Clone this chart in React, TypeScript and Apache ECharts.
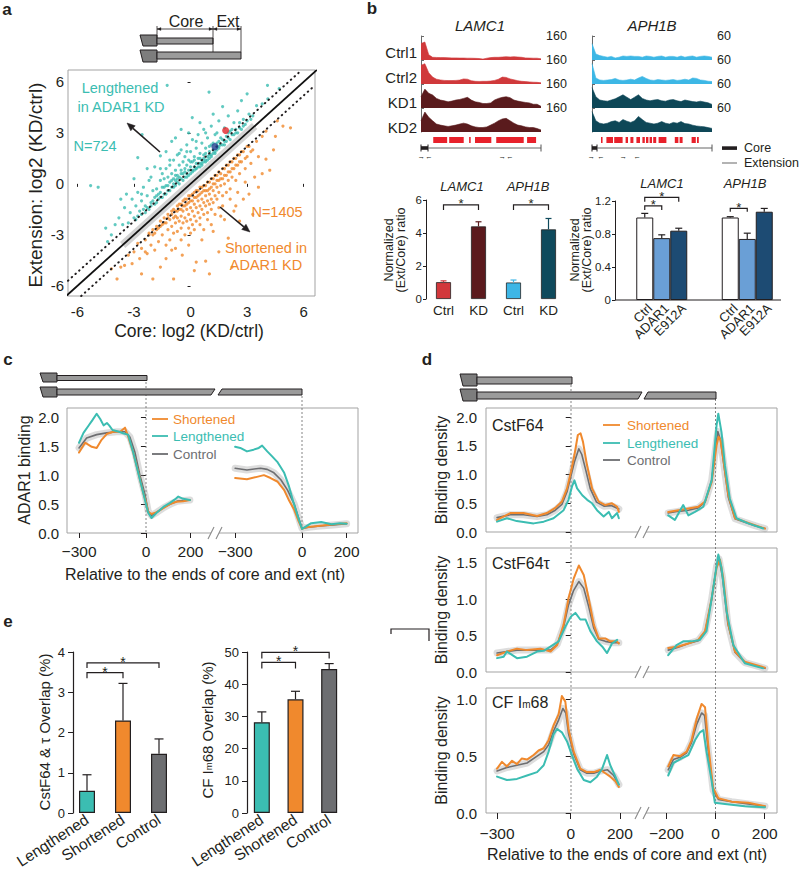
import React, { useEffect, useRef } from 'react';
import * as echarts from 'echarts';

const FONT = '"Liberation Sans", Arial, Helvetica, sans-serif';
const INK = '#231F20';
const TEAL = '#3BBDB2';
const ORANGE = '#F0892D';
const CTRL = '#6D6E71';
const FRAME = '#A3A3A3';

// ---------------- Panel a ----------------
const aTicks = [-6, -3, 0, 3, 6];
const lengthenedPts = [
  [-1.9,-0.8],[-1.8,-0.3],[-1.7,-0.9],[-1.6,0.2],[-1.6,-0.5],[-1.5,0.6],[-1.5,-0.2],[-1.4,-0.6],[-1.4,0.3],[-1.3,0.9],[-1.3,-0.1],[-1.2,0.4],[-1.2,-0.4],[-1.1,1.1],[-1.1,0.1],[-1.0,0.6],[-1.0,-0.2],[-0.9,1.4],[-0.9,0.3],[-0.9,0.0],[-0.8,0.8],[-0.8,0.2],[-0.7,1.7],[-0.7,0.5],[-0.7,0.1],[-0.6,1.1],[-0.6,0.4],[-0.5,2.0],[-0.5,0.8],[-0.5,0.3],[-0.4,1.3],[-0.4,0.6],[-0.3,1.6],[-0.3,0.9],[-0.3,0.4],[-0.2,2.3],[-0.2,1.1],[-0.2,0.6],[-0.1,1.4],[-0.1,0.8],[0.0,1.9],[0.0,1.0],[0.0,0.6],[0.1,2.6],[0.1,1.3],[0.1,0.8],[0.2,1.6],[0.2,1.0],[0.3,2.1],[0.3,1.2],[0.3,0.9],[0.4,2.9],[0.4,1.5],[0.4,1.0],[0.5,1.8],[0.5,1.2],[0.6,2.4],[0.6,1.4],[0.6,1.1],[0.7,3.2],[0.7,1.7],[0.7,1.3],[0.8,2.1],[0.8,1.4],[0.9,2.7],[0.9,1.6],[1.0,1.9],[1.0,1.5],[1.1,3.4],[1.1,2.3],[1.1,1.7],[1.2,2.0],[1.3,2.9],[1.3,1.9],[1.4,2.4],[1.4,2.0],[1.5,3.7],[1.5,2.2],[1.6,2.7],[1.7,2.3],[1.8,3.3],[1.8,2.5],[1.9,2.8],[2.0,4.0],[2.0,2.7],[2.1,3.1],[2.2,2.9],[2.3,3.6],[2.4,3.2],[2.5,4.3],[2.6,3.3],[2.8,3.8],[2.9,3.5],[3.1,4.1],[3.3,4.0],[3.5,4.6],[3.8,4.7],[4.1,5.0],
  [-2.0,-0.4],[-2.1,-1.1],[-2.2,0.2],[-2.3,-0.7],[-2.4,-1.3],[-2.5,-0.2],[-2.6,-1.0],[-2.7,-1.6],[-2.8,-0.5],[-2.9,-1.3],[-3.0,-2.0],[-3.1,-0.9],[-3.2,-1.7],[-3.3,-2.3],[-3.5,-1.4],[-3.6,-2.4],[-3.8,-2.0],[-4.0,-2.4],[-4.2,-3.0],[-4.5,-2.6],[-4.4,-3.4],[-3.4,-0.6],
  [-1.24,5.8],[0.98,5.4],[4.08,5.8],[4.7,5.6],[-5.3,-0.1],[-4.9,-0.2],[-2.8,1.55],[-2.57,2.9],[-1.6,1.65],[-0.5,3.2],[0.09,3.9],[1.7,4.55],[-1.9,1.0],[-2.3,0.9],[-3.0,0.3],[-1.0,2.5],[-0.1,3.0],[0.5,3.6],[1.2,4.1],[2.7,4.9],[3.0,5.3],[-3.7,-0.9],[-1.3,1.9],[-0.8,2.7],
  [-2.9,-2.1],[-2.8,-1.9],[-2.6,-1.8],[-2.5,-1.5],[-2.4,-1.7],[-2.3,-1.4],[-2.2,-1.5],[-2.1,-1.3],[-2.0,-1.0],[-1.9,-1.2],[-1.8,-0.7],[-1.8,-1.1],[-1.7,-0.6],[-1.6,-0.8],[-1.5,-0.8],[-1.4,-0.2],[-1.3,-0.6],[-1.2,-0.1],[-1.1,-0.4],[-1.0,0.2],[-0.9,-0.2],[-0.8,0.5],[-0.8,-0.1],[-0.7,0.3],[-0.6,0.0],[-0.5,0.6],[-0.4,0.2],[-0.3,0.7],[-0.2,0.4],[-0.1,0.5],[0.0,1.3],[0.1,0.7],[0.2,0.8],[0.2,1.4],[0.3,0.9],[0.4,1.2],[0.5,1.0],[0.5,1.5],[0.6,1.2],[0.7,1.5],[0.8,1.8],[0.8,1.3],[0.9,1.4],[1.0,1.7],[1.0,2.2],[1.1,1.6],[1.2,1.8],[1.2,2.4],[1.3,1.8],[1.4,2.2],[1.5,2.5],[1.5,2.1],[1.6,2.3],[1.7,2.6],[1.8,2.3],[1.9,2.5],[2.0,3.0],[2.1,2.6],[2.2,3.2],[2.3,2.9],[2.4,3.0],[2.5,3.0],[2.6,3.6],[2.7,3.2],[2.8,3.4],[3.0,3.7],[3.2,3.8],[-0.6,1.8],[-0.2,1.9],[0.3,2.5],[0.8,3.0],[1.4,3.0],[-1.1,1.4],[-1.6,0.9],[-2.1,0.4],[-2.6,-0.6]
];
const shortenedPts = [
  [-0.8,-1.6],[-0.8,-2.3],[-0.7,-1.3],[-0.7,-2.0],[-0.7,-2.8],[-0.6,-1.5],[-0.6,-2.2],[-0.5,-1.2],[-0.5,-1.9],[-0.5,-2.6],[-0.4,-1.0],[-0.4,-1.6],[-0.4,-2.3],[-0.3,-1.3],[-0.3,-2.0],[-0.3,-3.0],[-0.2,-0.9],[-0.2,-1.5],[-0.2,-2.2],[-0.1,-1.1],[-0.1,-1.8],[-0.1,-2.6],[0.0,-0.7],[0.0,-1.4],[0.0,-2.1],[0.1,-1.0],[0.1,-1.6],[0.1,-2.4],[0.2,-0.5],[0.2,-1.2],[0.2,-1.9],[0.3,-0.8],[0.3,-1.4],[0.3,-2.2],[0.4,-0.4],[0.4,-1.0],[0.4,-1.7],[0.5,-0.6],[0.5,-1.3],[0.5,-2.0],[0.6,-0.2],[0.6,-0.9],[0.6,-1.5],[0.7,-0.4],[0.7,-1.1],[0.7,-1.8],[0.8,-0.1],[0.8,-0.7],[0.8,-1.3],[0.9,-0.4],[0.9,-1.0],[0.9,-1.7],[1.0,0.1],[1.0,-0.6],[1.0,-1.2],[1.1,-0.2],[1.1,-0.9],[1.1,-1.5],[1.2,0.3],[1.2,-0.4],[1.2,-1.1],[1.3,0.0],[1.3,-0.7],[1.4,0.5],[1.4,-0.2],[1.4,-0.9],[1.5,0.2],[1.5,-0.5],[1.5,-1.4],[1.6,0.6],[1.6,-0.1],[1.7,0.3],[1.7,-0.7],[1.8,0.9],[1.8,0.0],[1.9,0.5],[1.9,-0.5],[2.0,1.1],[2.0,0.2],[2.1,0.7],[2.1,-0.3],[2.2,1.3],[2.2,0.4],[2.3,0.9],[2.4,1.5],[2.4,0.2],[2.5,1.1],[2.6,1.7],[2.6,0.6],[2.7,1.3],[2.8,1.9],[2.9,0.9],[3.0,1.6],[3.1,2.2],[3.2,1.2],[3.3,2.0],[3.5,2.5],[3.6,1.6],[3.8,2.8],
  [-0.9,-2.9],[-1.0,-1.8],[-1.0,-2.5],[-1.1,-3.3],[-1.2,-2.0],[-1.2,-2.7],[-1.3,-3.6],[-1.4,-2.3],[-1.5,-3.0],[-1.6,-2.5],[-1.7,-3.4],[-1.8,-2.7],[-1.9,-3.9],[-2.0,-3.0],[-2.1,-3.6],[-2.2,-2.9],[-2.3,-4.1],[-2.4,-3.3],[-2.6,-3.8],[-2.7,-4.4],[-2.8,-3.5],[-3.0,-4.0],[-3.1,-4.7],[-3.3,-4.2],[-3.5,-4.8],
  [4.0,3.1],[4.5,2.8],[4.4,2.0],[4.0,1.45],[3.8,0.6],[1.5,-4.0],[0.8,-4.55],[-0.44,-4.2],[-1.3,-4.4],[-2.6,-5.3],[-3.7,-4.9],[-2.4,-4.0],[0.2,-5.1],[2.2,-4.9],[3.3,-1.8],[2.6,-2.2],[4.9,3.4],[5.3,3.3],[4.6,3.7],[3.1,-0.6],[2.4,-1.3],[1.8,-2.1],[1.2,-2.8],[0.6,-3.3],[-0.1,-3.6],[-0.8,-3.8],[-1.6,-4.9],[-2.0,-5.6],[-0.9,-5.6],[1.0,-5.3],[3.6,-0.2],[4.2,0.8],[-3.9,-5.6],[-4.2,-5.0],[2.0,-3.2],[0.3,-4.6],
  [-2.2,-3.0],[-2.0,-2.7],[-1.9,-2.9],[-1.8,-2.5],[-1.7,-2.6],[-1.6,-2.2],[-1.5,-2.4],[-1.4,-2.0],[-1.3,-2.3],[-1.2,-1.8],[-1.1,-2.1],[-1.0,-1.6],[-0.9,-2.0],[-0.9,-1.5],[-0.8,-1.9],[-0.7,-1.6],[-0.6,-1.2],[-0.5,-1.5],[-0.4,-1.3],[-0.3,-0.9],[-0.2,-1.2],[-0.1,-0.7],[0.0,-1.0],[0.1,-0.6],[0.2,-0.8],[0.3,-0.4],[0.4,-0.7],[0.5,-0.2],[0.6,-0.5],[0.7,-0.1],[0.8,-0.4],[0.9,0.1],[1.0,-0.3],[1.1,0.3],[1.2,0.0],[1.3,0.5],[1.4,0.2],[1.5,0.7],[1.6,0.3],[1.7,0.9],[1.8,0.5],[1.9,1.1],[2.0,0.7],[2.1,1.3],[2.2,0.9],[2.3,1.5],[2.4,1.1],[2.5,1.7],[2.6,1.3],[2.7,1.9],[2.9,1.5],[3.0,2.2],[3.2,1.9],[0.2,-2.7],[0.5,-2.4],[0.9,-2.1],[1.3,-1.8],[1.7,-1.3],[2.1,-0.9],[2.5,-0.5],[2.9,0.1],[0.0,-2.9],[-0.5,-3.3],[-1.0,-3.9],[0.7,-2.7],[1.1,-2.4],[1.6,-1.9],[2.3,-1.6],[2.8,-0.9],[3.4,0.4]
];
const highlightLAMC1 = [1.86, 3.14];
const highlightAPH1B = [1.29, 2.19];
const nsBand = [[-3.6, -3.6], [3.4, 3.4]];
const diagonal = [[-6.6, -6.6], [6.7, 6.7]];
const diagUpper = [[-6.5, -5.7], [5.9, 6.7]];
const diagLower = [[-5.8, -6.6], [6.6, 5.8]];

// ---------------- Panel b: tracks ----------------
const trackNames = ['Ctrl1', 'Ctrl2', 'KD1', 'KD2'];
const lamc1Ctrl1 = [110,120,35,18,17,16,16,15,14,14,13,13,12,12,11,10,6,12,16,18,18,20,22,20,22,20,18,14,13,12,12,8];
const lamc1Ctrl2 = [125,135,75,46,32,27,24,23,23,24,26,34,32,22,18,17,18,18,20,24,32,46,44,34,28,22,18,16,14,12,11,8];
const lamc1KD1 = [75,126,98,87,64,53,48,41,46,53,57,64,71,53,41,37,30,30,34,53,64,71,75,69,53,46,41,37,34,25,25,11];
const lamc1KD2 = [75,133,98,75,53,46,41,37,41,46,53,59,53,41,34,30,30,34,46,59,75,87,91,75,59,46,41,34,30,30,23,14];
const aph1bCtrl1 = [41,15,11,9,7,9,5,7,10,9,10,9,9,7,10,9,7,9,10,7,9,9,7,10,7,9,10,7,9,10,9,7];
const aph1bCtrl2 = [51,15,10,9,10,11,14,10,9,10,12,10,15,19,14,10,9,11,10,9,10,11,9,10,12,10,15,14,10,9,7,6];
const aph1bKD1 = [51,28,20,18,17,20,23,28,33,27,21,27,33,24,20,18,20,21,18,17,20,21,18,16,20,18,16,15,17,15,13,9];
const aph1bKD2 = [51,28,22,20,22,26,28,24,31,27,24,28,39,31,24,22,20,22,26,22,20,24,22,26,21,20,17,15,14,13,11,9];
const lamc1Scale = 160;
const aph1bScale = 60;
const lamc1Exons = [[0.102,0.218],[0.235,0.356],[0.401,0.414],[0.450,0.586],[0.627,0.856],[0.884,0.959]];
const aph1bExons = [[0.075,0.088],[0.12,0.175],[0.185,0.255],[0.28,0.30],[0.32,0.345],[0.37,0.40],[0.42,0.44],[0.45,0.47],[0.48,0.50],[0.51,0.535],[0.555,0.62],[0.69,0.72],[0.73,0.755],[0.83,0.865],[0.875,0.89]];

// ---------------- Panel b: bars ----------------
const bLeftCats = ['Ctrl', 'KD', 'Ctrl', 'KD'];
const bLeftVals = [1.02, 4.4, 1.0, 4.22];
const bLeftErr = [1.1, 4.68, 1.15, 4.88];
const bLeftColors = ['#D2373B', '#5B1A1D', '#3DB6E6', '#0F4A5C'];
const bLeftTicks = [0, 2, 4, 6];
const bLeftBrackets = [[0, 1, 5.7, 5.4], [2, 3, 5.7, 5.4]];
const bRightGenes = ['LAMC1', 'APH1B'];
const bRightSeries = ['Ctrl', 'ADAR1', 'E912A'];
const bRightVals = [[1.0, 1.0], [0.75, 0.74], [0.84, 1.07]];
const bRightErr = [[1.05, 1.01], [0.79, 0.81], [0.87, 1.11]];
const bRightColors = ['#FFFFFF', '#6A9FD6', '#1D4B73'];
const bRightTicks = [0, 0.4, 0.8, 1.2];
const bRightBrackets = [[0, 0, 0, 1, 1.14, 1.09], [0, 0, 0, 2, 1.245, 1.19], [1, 0, 1, 1, 1.11, 1.07]];

// ---------------- Panel c ----------------
const C_OFF = 700;
const cXTicks = [-300, 0, 200, -300 + C_OFF, C_OFF, 200 + C_OFF];
const cYTicks = [0, 0.5, 1, 1.5, 2];
const cShortL = [[-300,1.39],[-273,1.56],[-243,1.49],[-221,1.47],[-199,1.61],[-176,1.71],[-146,1.75],[-116,1.75],[-94,1.82],[-79,1.66],[-57,1.39],[-34,1.04],[-12,0.69],[0,0.54],[10,0.36],[25,0.33],[48,0.36],[78,0.43],[107,0.5],[137,0.54],[167,0.55],[197,0.57]];
const cCtrlL = [[-300,1.47],[-266,1.64],[-221,1.7],[-176,1.73],[-131,1.75],[-94,1.75],[-72,1.66],[-49,1.39],[-27,1.0],[-4,0.66],[10,0.38],[25,0.3],[50,0.36],[80,0.44],[110,0.5],[140,0.55],[170,0.56],[197,0.57]];
const cLongL = [[-300,1.56],[-280,1.73],[-260,1.84],[-240,1.95],[-221,2.06],[-205,1.97],[-190,1.86],[-175,1.9],[-165,1.86],[-150,1.78],[-120,1.75],[-100,1.72],[-80,1.7],[-57,1.39],[-27,0.92],[-12,0.69],[0,0.5],[10,0.35],[25,0.26],[48,0.35],[78,0.45],[108,0.52],[130,0.58],[145,0.63],[167,0.59],[197,0.57]];
const cShortR = [[-300,0.95],[-247,0.93],[-202,0.97],[-171,1.0],[-141,0.95],[-111,0.89],[-80,0.74],[-58,0.56],[-35,0.4],[-15,0.2],[0,0.07],[18,0.1],[71,0.12],[147,0.15],[200,0.17]];
const cCtrlR = [[-300,1.12],[-247,1.09],[-186,1.12],[-156,1.1],[-126,1.04],[-95,0.92],[-65,0.74],[-35,0.5],[-12,0.22],[0,0.08],[30,0.1],[80,0.12],[140,0.14],[200,0.16]];
const cLongR = [[-300,1.49],[-277,1.47],[-247,1.41],[-217,1.44],[-194,1.47],[-179,1.51],[-156,1.41],[-133,1.32],[-111,1.23],[-80,1.04],[-58,0.8],[-40,0.55],[-20,0.3],[0,0.07],[20,0.12],[41,0.17],[86,0.19],[132,0.15],[170,0.17],[200,0.16]];

// ---------------- Panel d ----------------
const D_OFF = 590;
const dXTicks = [-300, 0, 200, -200 + D_OFF, D_OFF, 200 + D_OFF];
const dC64ShortL = [[-300,0.21],[-246,0.33],[-192,0.33],[-137,0.28],[-97,0.33],[-63,0.42],[-36,0.53],[-15,0.76],[1,1.05],[15,1.34],[29,1.69],[40,1.72],[50,1.57],[66,1.17],[87,0.76],[114,0.53],[141,0.47],[168,0.5],[189,0.44],[196,0.35]];
const dC64CtrlL = [[-300,0.25],[-246,0.3],[-192,0.3],[-137,0.27],[-97,0.3],[-63,0.38],[-36,0.48],[-15,0.7],[1,0.98],[15,1.22],[33,1.45],[45,1.35],[60,1.1],[80,0.75],[105,0.52],[135,0.45],[165,0.46],[196,0.4]];
const dC64LongL = [[-300,0.18],[-260,0.24],[-220,0.19],[-151,0.15],[-110,0.18],[-70,0.24],[-29,0.38],[-9,0.56],[5,0.79],[15,0.9],[26,0.76],[47,0.64],[67,0.56],[87,0.5],[107,0.38],[134,0.27],[155,0.35],[168,0.24],[189,0.33],[196,0.24]];
const dC64ShortR = [[-193,0.35],[-152,0.38],[-111,0.41],[-71,0.44],[-43,0.53],[-16,0.87],[4,1.51],[12,1.66],[20,1.6],[31,1.28],[52,0.64],[79,0.24],[119,0.18],[160,0.12],[201,0.06]];
const dC64CtrlR = [[-193,0.33],[-152,0.36],[-111,0.38],[-71,0.42],[-43,0.52],[-16,0.9],[4,1.6],[9,1.75],[20,1.6],[31,1.25],[52,0.6],[79,0.23],[119,0.17],[160,0.11],[201,0.06]];
const dC64LongR = [[-193,0.29],[-166,0.21],[-132,0.47],[-111,0.29],[-84,0.35],[-50,0.44],[-16,0.9],[4,1.86],[11,2.06],[24,1.74],[38,1.16],[58,0.58],[85,0.24],[133,0.15],[194,0.06]];
const dTauShortL = [[-300,0.23],[-260,0.28],[-219,0.32],[-178,0.3],[-123,0.32],[-82,0.28],[-55,0.37],[-29,0.65],[-9,1.01],[12,1.28],[33,1.46],[53,1.33],[73,1.01],[94,0.65],[114,0.46],[141,0.46],[161,0.42],[188,0.42],[196,0.39]];
const dTauCtrlL = [[-300,0.26],[-219,0.3],[-137,0.3],[-82,0.3],[-55,0.38],[-29,0.62],[-9,0.92],[12,1.12],[33,1.24],[53,1.15],[73,0.9],[94,0.6],[114,0.45],[141,0.42],[170,0.4],[196,0.4]];
const dTauLongL = [[-300,0.19],[-273,0.21],[-260,0.28],[-219,0.19],[-178,0.21],[-137,0.28],[-110,0.29],[-49,0.42],[-22,0.62],[1,0.76],[19,0.81],[39,0.72],[60,0.72],[80,0.56],[107,0.42],[128,0.35],[148,0.26],[168,0.39],[189,0.44]];
const dTauShortR = [[-193,0.33],[-152,0.35],[-111,0.39],[-71,0.44],[-43,0.56],[-16,1.01],[4,1.43],[18,1.54],[31,1.29],[52,0.65],[79,0.28],[119,0.14],[160,0.1],[201,0.06]];
const dTauCtrlR = [[-193,0.3],[-152,0.34],[-111,0.39],[-71,0.43],[-43,0.55],[-16,1.0],[4,1.45],[14,1.55],[28,1.3],[50,0.66],[79,0.27],[119,0.13],[160,0.09],[201,0.05]];
const dTauLongR = [[-193,0.23],[-159,0.37],[-132,0.42],[-98,0.42],[-64,0.44],[-37,0.56],[-16,1.01],[11,1.61],[24,1.43],[45,0.83],[72,0.37],[119,0.12],[194,0.05]];
const dImShortL = [[-300,0.39],[-280,0.45],[-260,0.41],[-239,0.46],[-219,0.43],[-199,0.48],[-178,0.47],[-151,0.51],[-131,0.55],[-110,0.57],[-90,0.64],[-70,0.77],[-49,0.87],[-36,1.03],[-22,0.98],[-9,0.74],[12,0.54],[39,0.39],[66,0.36],[94,0.36],[121,0.38],[141,0.35],[161,0.32],[182,0.28],[196,0.23]];
const dImCtrlL = [[-300,0.37],[-260,0.4],[-219,0.42],[-178,0.44],[-137,0.5],[-110,0.54],[-90,0.6],[-70,0.72],[-49,0.82],[-32,0.92],[-20,0.88],[-9,0.7],[12,0.52],[39,0.38],[66,0.35],[94,0.35],[121,0.37],[150,0.38],[175,0.33],[196,0.25]];
const dImLongL = [[-300,0.32],[-260,0.29],[-219,0.3],[-178,0.33],[-137,0.36],[-110,0.42],[-90,0.54],[-70,0.69],[-56,0.74],[-36,0.71],[-15,0.63],[5,0.51],[26,0.39],[53,0.29],[80,0.27],[107,0.32],[128,0.39],[148,0.51],[161,0.42],[182,0.32],[196,0.25]];
const dImShortR = [[-193,0.41],[-172,0.51],[-145,0.5],[-118,0.54],[-98,0.64],[-77,0.83],[-57,0.96],[-43,0.93],[-30,0.6],[-10,0.22],[11,0.13],[65,0.1],[133,0.09],[201,0.06]];
const dImCtrlR = [[-193,0.38],[-172,0.47],[-145,0.49],[-118,0.53],[-98,0.62],[-77,0.78],[-57,0.88],[-45,0.86],[-30,0.55],[-10,0.2],[11,0.12],[65,0.1],[133,0.08],[201,0.06]];
const dImLongR = [[-193,0.33],[-172,0.44],[-138,0.48],[-111,0.51],[-84,0.64],[-64,0.71],[-50,0.73],[-37,0.54],[-16,0.28],[-3,0.09],[38,0.08],[119,0.06],[201,0.05]];

// ---------------- Panel e ----------------
const eCats = ['Lengthened', 'Shortened', 'Control'];
const eColors = [TEAL, ORANGE, CTRL];
const eLeftVals = [0.55, 2.3, 1.47];
const eLeftErr = [0.95, 3.22, 1.84];
const eLeftTicks = [0, 1, 2, 3, 4];
const eLeftBrackets = [[0, 1, 3.49, 3.35], [0, 2, 3.73, 3.6]];
const eRightVals = [28.2, 35.3, 44.7];
const eRightErr = [31.4, 37.8, 46.4];
const eRightTicks = [0, 10, 20, 30, 40, 50];
const eRightBrackets = [[0, 1, 46.8, 44.9], [0, 2, 49.9, 48]];

function buildOption(): any {
  const grid: any[] = [];
  const xAxis: any[] = [];
  const yAxis: any[] = [];
  const series: any[] = [];
  const g: any[] = [];

  const add = (gr: any, x: any, y: any) => {
    const i = grid.length;
    grid.push({ outerBoundsMode: 'none', containLabel: false, ...gr });
    xAxis.push({ gridIndex: i, splitLine: { show: false }, ...x });
    yAxis.push({ gridIndex: i, splitLine: { show: false }, ...y });
    return i;
  };
  const on = (i: number) => ({ xAxisIndex: i, yAxisIndex: i });
  const lbl = (size: number) => ({ color: INK, fontSize: size, fontFamily: FONT });
  const tick = (vals: number[], len: number) => ({ show: true, length: len, customValues: vals, lineStyle: { color: INK, width: 1 } });
  const minus = (v: number) => String(v).replace('-', '\u2212');

  const text = (x: number, y: number, t: string, o: any = {}) => {
    const style: any = {
      text: t, fontSize: o.size || 13, fontFamily: FONT, fontWeight: o.bold ? 'bold' : 'normal',
      fontStyle: o.italic ? 'italic' : 'normal', fill: o.color || INK,
      align: o.align || 'center', verticalAlign: o.va || 'middle'
    };
    if (o.lh) style.lineHeight = o.lh;
    if (o.rich) style.rich = o.rich;
    return { type: 'text', x, y, rotation: o.rot || 0, z: 100, silent: true, style };
  };
  const seg = (x1: number, y1: number, x2: number, y2: number, o: any = {}) => {
    const style: any = { stroke: o.color || INK, lineWidth: o.w || 1 };
    if (o.dash) style.lineDash = o.dash;
    return { type: 'line', z: o.z ?? 60, silent: true, shape: { x1, y1, x2, y2 }, style };
  };
  const poly = (pts: number[][], fill: string, o: any = {}) => ({
    type: 'polygon', z: o.z ?? 60, silent: true, shape: { points: pts },
    style: { fill, stroke: o.stroke || INK, lineWidth: o.w ?? 1 }
  });
  const rect = (x: number, y: number, w: number, h: number, fill: string, o: any = {}) => ({
    type: 'rect', z: o.z ?? 60, silent: true, shape: { x, y, width: w, height: h },
    style: { fill, stroke: o.stroke || null, lineWidth: o.w ?? 0 }
  });
  const arrow = (x1: number, y1: number, x2: number, y2: number, size = 8) => {
    const a = Math.atan2(y2 - y1, x2 - x1);
    const hx = x2 - size * Math.cos(a), hy = y2 - size * Math.sin(a);
    const w = size * 0.42, px = -Math.sin(a) * w, py = Math.cos(a) * w;
    return [seg(x1, y1, hx, hy, { w: 1.6 }), poly([[x2, y2], [hx + px, hy + py], [hx - px, hy - py]], INK, { w: 0.5 })];
  };
  const capShape = (x: number, top: number, bot: number) => poly([[x, top], [x + 17, top], [x + 17, bot], [x + 3, bot]], '#7D7D7D');
  const barShape = (x1: number, x2: number, top: number, bot: number) => poly([[x1, top], [x2, top], [x2, bot], [x1, bot]], '#9B9B9B');
  const brk = (x: number, y: number) => [
    rect(x - 5, y - 2, 8, 4, '#fff', { z: 70 }),
    seg(x - 8, y + 6, x - 2, y - 6, { color: '#8A8A8A', w: 1.1, z: 71 }),
    seg(x + 0, y + 6, x + 6, y - 6, { color: '#8A8A8A', w: 1.1, z: 71 })
  ];

  const errSeries = (i: number, data: number[][], colorOf: (k: number, s: number) => string, cap: number, shift: (s: number) => number) => ({
    type: 'custom', ...on(i), clip: false, silent: true, z: 5, encode: { x: 0, y: 2 }, data,
    renderItem: (p: any, api: any) => {
      const cat = api.value(0), s = api.value(1), v = api.value(2), e = api.value(3);
      const b = api.coord([cat, v]);
      const t = api.coord([cat, e]);
      const x = b[0] + shift(s);
      const c = colorOf(p.dataIndex, s);
      return {
        type: 'group', children: [
          { type: 'line', shape: { x1: x, y1: b[1], x2: x, y2: t[1] }, style: { stroke: c, lineWidth: 1.2 } },
          { type: 'line', shape: { x1: x - cap / 2, y1: t[1], x2: x + cap / 2, y2: t[1] }, style: { stroke: c, lineWidth: 1.2 } }
        ]
      };
    }
  });
  const bracketSeries = (i: number, data: number[][], shift: (s: number) => number, starSize = 14) => ({
    type: 'custom', ...on(i), clip: false, silent: true, z: 5, encode: { x: 0, y: 4 }, data,
    renderItem: (p: any, api: any) => {
      const ca = api.value(0), sa = api.value(1), cb = api.value(2), sb = api.value(3), top = api.value(4), leg = api.value(5);
      const pa = api.coord([ca, top]);
      const pb = api.coord([cb, top]);
      const pl = api.coord([ca, leg]);
      const xa = pa[0] + shift(sa), xb = pb[0] + shift(sb), yt = pa[1], yl = pl[1];
      return {
        type: 'group', children: [
          { type: 'polyline', shape: { points: [[xa, yl], [xa, yt], [xb, yt], [xb, yl]] }, style: { stroke: INK, lineWidth: 1.2, fill: 'none' } },
          { type: 'text', x: (xa + xb) / 2, y: yt - 1, style: { text: '*', fontSize: starSize, lineHeight: 8, fontFamily: FONT, fill: INK, align: 'center', verticalAlign: 'middle' } }
        ]
      };
    }
  });
  const noShift = () => 0;

  // ================= Panel a =================
  const ia = add(
    { left: 68, top: 70, width: 247, height: 226, show: true, borderColor: FRAME, borderWidth: 1 },
    { type: 'value', min: -6.5, max: 6.6, axisLine: { show: false }, axisTick: tick(aTicks, 3), axisLabel: { customValues: aTicks, ...lbl(15), margin: 8 } },
    { type: 'value', min: -6.6, max: 6.7, axisLine: { show: false }, axisTick: tick(aTicks, 3), axisLabel: { customValues: aTicks, ...lbl(15), margin: 4 } }
  );
  series.push({ type: 'line', ...on(ia), data: nsBand, symbol: 'none', silent: true, z: 1, lineStyle: { color: '#D3D3D3', width: 8, cap: 'butt' } });
  series.push({ type: 'scatter', ...on(ia), data: lengthenedPts, symbolSize: 3.2, silent: true, itemStyle: { color: TEAL }, z: 2 });
  series.push({ type: 'scatter', ...on(ia), data: shortenedPts, symbolSize: 3.2, silent: true, itemStyle: { color: ORANGE }, z: 2 });
  series.push({ type: 'line', ...on(ia), data: diagUpper, symbol: 'none', silent: true, z: 3, lineStyle: { color: INK, width: 2, type: [0.5, 4.5], cap: 'round' } });
  series.push({ type: 'line', ...on(ia), data: diagLower, symbol: 'none', silent: true, z: 3, lineStyle: { color: INK, width: 2, type: [0.5, 4.5], cap: 'round' } });
  series.push({ type: 'line', ...on(ia), data: diagonal, symbol: 'none', silent: true, z: 3, lineStyle: { color: '#111', width: 1.8 } });
  series.push({ type: 'scatter', ...on(ia), data: [highlightLAMC1], symbolSize: 7, silent: true, itemStyle: { color: '#E3262B' }, z: 4 });
  series.push({ type: 'scatter', ...on(ia), data: [highlightAPH1B], symbolSize: 7, silent: true, itemStyle: { color: '#1F3C8C' }, z: 4 });

  g.push(text(7, 9, 'a', { bold: true, size: 17 }));
  g.push(capShape(140, 35, 46), barShape(157, 213, 38, 44));
  g.push(capShape(140, 50, 62), barShape(157, 241, 52, 59));
  g.push(seg(157, 26, 157, 38, { w: 0.8 }), seg(213, 26, 213, 52, { w: 0.8 }), seg(241, 26, 241, 52, { w: 0.8 }));
  g.push(seg(157, 29, 213, 29, { w: 0.8 }), seg(213, 29, 241, 29, { w: 0.8 }));
  g.push(poly([[157, 29], [161, 27.5], [161, 30.5]], INK, { w: 0.3 }), poly([[213, 29], [209, 27.5], [209, 30.5]], INK, { w: 0.3 }));
  g.push(poly([[213, 29], [217, 27.5], [217, 30.5]], INK, { w: 0.3 }), poly([[241, 29], [237, 27.5], [237, 30.5]], INK, { w: 0.3 }));
  g.push(text(186, 21, 'Core', { size: 16 }), text(228, 21, 'Ext', { size: 16 }));
  g.push(text(35, 185, 'Extension: log2 (KD/ctrl)', { size: 19, rot: Math.PI / 2 }));
  g.push(text(189, 331, 'Core: log2 (KD/ctrl)', { size: 17.5 }));
  g.push(text(120, 88, 'Lengthened', { size: 14.5, color: TEAL }), text(121, 107, 'in ADAR1 KD', { size: 14.5, color: TEAL }));
  g.push(text(95, 146, 'N=724', { size: 14.5, color: TEAL }));
  g.push(text(277, 212, 'N=1405', { size: 14.5, color: ORANGE }));
  g.push(text(266, 248, 'Shortened in', { size: 14.5, color: ORANGE }), text(266, 265, 'ADAR1 KD', { size: 14.5, color: ORANGE }));
  g.push(...arrow(160, 152, 127, 123), ...arrow(220, 207, 250, 232));

  // ================= Panel b: coverage tracks =================
  g.push(text(372, 8, 'b', { bold: true, size: 17 }));
  const trackTops = [36, 60, 84, 108];
  const genes = [
    { name: 'LAMC1', left: 421, max: lamc1Scale, tracks: [lamc1Ctrl1, lamc1Ctrl2, lamc1KD1, lamc1KD2], colors: ['#D0393B', '#D0393B', '#5A1B1D', '#5A1B1D'], exons: lamc1Exons },
    { name: 'APH1B', left: 592, max: aph1bScale, tracks: [aph1bCtrl1, aph1bCtrl2, aph1bKD1, aph1bKD2], colors: ['#3DB7E5', '#3DB7E5', '#0E4757', '#0E4757'], exons: aph1bExons }
  ];
  genes.forEach((gn) => {
    let lastIdx = 0;
    gn.tracks.forEach((tr, t) => {
      const i = add(
        { left: gn.left, top: trackTops[t], width: 120, height: 24 },
        { type: 'value', min: 0, max: 1, show: false },
        { type: 'value', min: 0, max: gn.max, position: 'right', offset: 2, axisLine: { show: true, lineStyle: { color: '#6A6A6A', width: 1 } }, axisTick: { show: true, length: 3, customValues: [gn.max], lineStyle: { color: '#6A6A6A' } }, axisLabel: { customValues: [gn.max], ...lbl(12.5), margin: 3 } }
      );
      series.push({
        type: 'line', ...on(i), data: tr.map((v, k) => [k / (tr.length - 1), v]), symbol: 'none', silent: true,
        lineStyle: { color: gn.colors[t], width: 0.6 }, areaStyle: { color: gn.colors[t], opacity: 1 }
      });
      lastIdx = i;
    });
    series.push({
      type: 'custom', ...on(lastIdx), clip: false, silent: true, data: gn.exons, encode: { x: [0, 1] },
      renderItem: (p: any, api: any) => {
        const a = api.coord([api.value(0), 0]);
        const b = api.coord([api.value(1), 0]);
        return { type: 'rect', shape: { x: a[0], y: a[1] + 5, width: Math.max(1.2, b[0] - a[0]), height: 6 }, style: { fill: '#E8212B' } };
      }
    });
  });
  g.push(text(480, 25, 'LAMC1', { size: 15, italic: true }), text(652, 25, 'APH1B', { size: 15, italic: true }));
  trackNames.forEach((n, t) => g.push(text(417, trackTops[t] + 16 + t, n, { size: 15, align: 'right' })));
  g.push(rect(421, 146.2, 7, 3.6, INK), seg(421, 144.5, 421, 151.5), seg(428, 144.5, 428, 151.5), seg(428, 148, 541, 148, { color: '#555', w: 0.9 }), seg(541, 144.5, 541, 151.5, { color: '#555' }));
  g.push(text(425, 156, '\u2192\u2190', { size: 7.5 }), text(506, 156, '\u2192\u2190', { size: 7.5 }));
  g.push(rect(592, 146.2, 5, 3.6, INK), seg(592, 144.5, 592, 151.5), seg(597, 144.5, 597, 151.5), seg(597, 148, 712, 148, { color: '#555', w: 0.9 }), seg(712, 144.5, 712, 151.5, { color: '#555' }));
  g.push(text(596, 156, '\u2192 \u2190', { size: 7.5 }), text(630, 156, '\u2192   \u2190', { size: 7.5 }));
  g.push(rect(722, 146.3, 15, 3.6, INK), text(744, 148, 'Core', { size: 12.5, align: 'left' }));
  g.push(seg(722, 163, 737, 163, { color: '#9A9A9A', w: 1.5 }), text(744, 163, 'Extension', { size: 12.5, align: 'left' }));

  // ================= Panel b: bar charts =================
  const ib1 = add(
    { left: 426, top: 200, width: 140, height: 99 },
    { type: 'category', data: bLeftCats, axisLine: { show: false }, axisTick: { show: false }, axisLabel: { ...lbl(13.5), margin: 4, interval: 0 } },
    { type: 'value', min: 0, max: 6, axisLine: { show: true, lineStyle: { color: INK, width: 1 } }, axisTick: tick(bLeftTicks, 3), axisLabel: { customValues: bLeftTicks, ...lbl(11.5), margin: 4 } }
  );
  series.push({ type: 'bar', ...on(ib1), barWidth: 15, silent: true, data: bLeftVals.map((v, k) => ({ value: v, itemStyle: { color: bLeftColors[k], borderColor: '#222', borderWidth: 0.8 } })) });
  series.push(errSeries(ib1, bLeftVals.map((v, k) => [k, 1, v, bLeftErr[k]]), (k) => bLeftColors[k], 6, noShift));
  series.push(bracketSeries(ib1, bLeftBrackets.map((b) => [b[0], 1, b[1], 1, b[2], b[3]]), noShift, 13));
  g.push(text(462, 186, 'LAMC1', { size: 13, italic: true }), text(528, 186, 'APH1B', { size: 13, italic: true }));
  g.push(text(395, 250, 'Normalized\n(Ext/Core) ratio', { size: 12.5, rot: Math.PI / 2, lh: 12 }));

  const BW = 17;
  const ib2 = add(
    { left: 619, top: 201, width: 171, height: 99 },
    { type: 'category', data: bRightGenes, axisLine: { show: false }, axisTick: { show: false }, axisLabel: { show: false } },
    { type: 'value', min: 0, max: 1.2, offset: 4, axisLine: { show: true, lineStyle: { color: INK, width: 1 } }, axisTick: tick(bRightTicks, 3), axisLabel: { customValues: bRightTicks, formatter: (v: number) => (v === 0 ? '0' : v.toFixed(1)), ...lbl(11.5), margin: 4 } }
  );
  bRightSeries.forEach((nm, s) => {
    series.push({ type: 'bar', ...on(ib2), name: nm, data: bRightVals[s], barWidth: BW, barGap: '0%', silent: true, itemStyle: { color: bRightColors[s], borderColor: INK, borderWidth: 1 } });
  });
  const shiftR = (s: number) => (s - 1) * BW;
  const errR: number[][] = [];
  bRightGenes.forEach((_, c) => bRightSeries.forEach((__, s) => errR.push([c, s, bRightVals[s][c], bRightErr[s][c]])));
  series.push(errSeries(ib2, errR, () => INK, 7, shiftR));
  series.push(bracketSeries(ib2, bRightBrackets, shiftR, 13));
  series.push({
    type: 'custom', ...on(ib2), clip: false, silent: true, encode: { x: 0, y: 1 },
    data: errR.map((r) => [r[0], r[1]]),
    renderItem: (p: any, api: any) => {
      const c = api.value(0), s = api.value(1);
      const pt = api.coord([c, 0]);
      return { type: 'text', x: pt[0] + shiftR(s) + 5, y: pt[1] + 6, rotation: Math.PI / 4, style: { text: bRightSeries[s], fontSize: 13, fontFamily: FONT, fill: INK, align: 'right', verticalAlign: 'middle' } };
    }
  });
  g.push(seg(615, 300, 781, 300, { w: 1.2 }));
  g.push(text(662, 183, 'LAMC1', { size: 13, italic: true }), text(745, 183, 'APH1B', { size: 13, italic: true }));
  g.push(text(581, 250, 'Normalized\n(Ext/Core) ratio', { size: 12.5, rot: Math.PI / 2, lh: 12 }));

  // ================= Panel c =================
  const trio = (i: number, off: number, sh: number[][], ct: number[][], lg: number[][]) => {
    const prof = (d: number[][], color: string, width: number) =>
      series.push({ type: 'line', ...on(i), data: d.map((p) => [p[0] + off, p[1]]), symbol: 'none', silent: true, lineStyle: { color, width, join: 'round', cap: 'round' } });
    prof(ct, 'rgba(150,150,150,0.32)', 7);
    prof(ct, CTRL, 1.6);
    prof(sh, ORANGE, 2);
    prof(lg, TEAL, 2);
  };
  g.push(text(8, 359, 'c', { bold: true, size: 17 }));
  const ic = add(
    { left: 67, top: 408, width: 291, height: 125, show: true, borderColor: FRAME, borderWidth: 1 },
    { type: 'value', min: -354, max: 951, axisLine: { show: false }, axisTick: tick(cXTicks, 5), axisLabel: { customValues: cXTicks, formatter: (v: number) => minus(v > 300 ? v - C_OFF : v), ...lbl(15.5), margin: 10 } },
    { type: 'value', min: 0, max: 2.16, axisLine: { show: false }, axisTick: tick(cYTicks, 5), axisLabel: { customValues: cYTicks, formatter: (v: number) => v.toFixed(1), ...lbl(15), margin: 8 } }
  );
  trio(ic, 0, cShortL, cCtrlL, cLongL);
  trio(ic, C_OFF, cShortR, cCtrlR, cLongR);
  g.push(capShape(40, 373, 382), barShape(57, 147, 375.5, 380.5));
  g.push(capShape(40, 387, 397), poly([[57, 389], [215, 389], [211, 395], [57, 395]], '#9B9B9B'), poly([[222, 389], [302, 389], [302, 395], [218, 395]], '#9B9B9B'));
  g.push(seg(146, 382, 146, 533, { dash: [2, 2], color: '#666', w: 0.8, z: 1 }), seg(302, 396, 302, 533, { dash: [2, 2], color: '#666', w: 0.8, z: 1 }));
  g.push(...brk(216, 533));
  g.push(seg(152, 419, 168, 419, { color: ORANGE, w: 1.8 }), text(173, 419, 'Shortened', { size: 13.5, align: 'left', color: ORANGE }));
  g.push(seg(152, 436, 168, 436, { color: TEAL, w: 1.8 }), text(173, 436, 'Lengthened', { size: 13.5, align: 'left', color: TEAL }));
  g.push(seg(152, 454, 168, 454, { color: CTRL, w: 1.8 }), text(173, 454, 'Control', { size: 13.5, align: 'left', color: CTRL }));
  g.push(text(24, 470, 'ADAR1 binding', { size: 16, rot: Math.PI / 2 }));
  g.push(text(205, 574, 'Relative to the ends of core and ext (nt)', { size: 16 }));

  // ================= Panel d =================
  g.push(text(427, 359, 'd', { bold: true, size: 17 }));
  const dBoxes = [
    { top: 408, h: 124, max: 2.16, ticks: [0, 0.5, 1, 1.5, 2], L: [dC64ShortL, dC64CtrlL, dC64LongL], R: [dC64ShortR, dC64CtrlR, dC64LongR] },
    { top: 548, h: 124, max: 1.7, ticks: [0, 0.5, 1, 1.5], L: [dTauShortL, dTauCtrlL, dTauLongL], R: [dTauShortR, dTauCtrlR, dTauLongR] },
    { top: 688, h: 125, max: 1.1, ticks: [0, 0.5, 1], L: [dImShortL, dImCtrlL, dImLongL], R: [dImShortR, dImCtrlR, dImLongR] }
  ];
  dBoxes.forEach((b, k) => {
    const last = k === dBoxes.length - 1;
    const i = add(
      { left: 486, top: b.top, width: 291, height: b.h, show: true, borderColor: FRAME, borderWidth: 1 },
      { type: 'value', min: -345, max: 840, axisLine: { show: false }, axisTick: last ? tick(dXTicks, 6) : { show: false }, axisLabel: last ? { customValues: dXTicks, formatter: (v: number) => minus(v > 300 ? v - D_OFF : v), ...lbl(15.5), margin: 12 } : { show: false } },
      { type: 'value', min: 0, max: b.max, axisLine: { show: false }, axisTick: tick(b.ticks, 5), axisLabel: { customValues: b.ticks, formatter: (v: number) => v.toFixed(1), ...lbl(15), margin: 9 } }
    );
    trio(i, 0, b.L[0], b.L[1], b.L[2]);
    trio(i, D_OFF, b.R[0], b.R[1], b.R[2]);
    g.push(...brk(643, b.top + b.h));
    g.push(text(441, b.top + b.h / 2, 'Binding density', { size: 16, rot: Math.PI / 2 }));
  });
  g.push(capShape(460, 374, 386), barShape(477, 572, 377, 384));
  g.push(capShape(460, 389, 401), poly([[477, 392], [642, 392], [638, 399], [477, 399]], '#9B9B9B'), poly([[648, 392], [716, 392], [716, 399], [644, 399]], '#9B9B9B'));
  g.push(seg(571, 385, 571, 813, { dash: [2, 2], color: '#666', w: 0.8, z: 1 }), seg(715.5, 399, 715.5, 813, { dash: [2, 2], color: '#666', w: 0.8, z: 1 }));
  g.push(text(492, 425, 'CstF64', { size: 16, align: 'left' }));
  g.push(text(492, 563, 'CstF64\u03C4', { size: 16, align: 'left' }));
  g.push(text(492, 702, 'CF I{s|m}68', { size: 16, align: 'left', rich: { s: { fontSize: 10, fontFamily: FONT, fill: INK, verticalAlign: 'bottom', padding: [0, 0, 1, 0] } } }));
  g.push(seg(603, 425, 620, 425, { color: ORANGE, w: 1.8 }), text(627, 425, 'Shortened', { size: 13.5, align: 'left', color: ORANGE }));
  g.push(seg(603, 443, 620, 443, { color: TEAL, w: 1.8 }), text(627, 443, 'Lengthened', { size: 13.5, align: 'left', color: TEAL }));
  g.push(seg(603, 460, 620, 460, { color: CTRL, w: 1.8 }), text(627, 460, 'Control', { size: 13.5, align: 'left', color: CTRL }));
  g.push(text(627, 854, 'Relative to the ends of core and ext (nt)', { size: 16 }));
  g.push({ type: 'polyline', z: 60, silent: true, shape: { points: [[391, 634], [391, 629], [429, 629], [429, 641]] }, style: { stroke: INK, lineWidth: 1.2, fill: 'none' } });

  // ================= Panel e =================
  g.push(text(8, 621, 'e', { bold: true, size: 17 }));
  const ie1 = add(
    { left: 69, top: 652, width: 108, height: 161 },
    { type: 'category', data: eCats, axisLine: { show: false }, axisTick: { show: false }, axisLabel: { ...lbl(15.5), rotate: 33, margin: 5, interval: 0 } },
    { type: 'value', min: 0, max: 4, offset: -4, axisLine: { show: true, lineStyle: { color: INK, width: 1.2 } }, axisTick: tick(eLeftTicks, 5), axisLabel: { customValues: eLeftTicks, ...lbl(13), margin: 8 } }
  );
  series.push({ type: 'bar', ...on(ie1), barWidth: 16, silent: true, data: eLeftVals.map((v, k) => ({ value: v, itemStyle: { color: eColors[k], borderColor: INK, borderWidth: 1.2 } })) });
  series.push(errSeries(ie1, eLeftVals.map((v, k) => [k, 1, v, eLeftErr[k]]), () => INK, 9, noShift));
  series.push(bracketSeries(ie1, eLeftBrackets.map((b) => [b[0], 1, b[1], 1, b[2], b[3]]), noShift, 14));
  g.push(text(44, 732, 'CstF64 & \u03C4 Overlap (%)', { size: 15, rot: Math.PI / 2 }));

  const ie2 = add(
    { left: 245, top: 652, width: 101, height: 161 },
    { type: 'category', data: eCats, axisLine: { show: false }, axisTick: { show: false }, axisLabel: { ...lbl(15.5), rotate: 33, margin: 5, interval: 0 } },
    { type: 'value', min: 0, max: 50, offset: -2, axisLine: { show: true, lineStyle: { color: INK, width: 1.2 } }, axisTick: tick(eRightTicks, 5), axisLabel: { customValues: eRightTicks, ...lbl(13), margin: 8 } }
  );
  series.push({ type: 'bar', ...on(ie2), barWidth: 16, silent: true, data: eRightVals.map((v, k) => ({ value: v, itemStyle: { color: eColors[k], borderColor: INK, borderWidth: 1.2 } })) });
  series.push(errSeries(ie2, eRightVals.map((v, k) => [k, 1, v, eRightErr[k]]), () => INK, 9, noShift));
  series.push(bracketSeries(ie2, eRightBrackets.map((b) => [b[0], 1, b[1], 1, b[2], b[3]]), noShift, 14));
  g.push(text(207, 730, 'CF I{s|m}68 Overlap (%)', { size: 15, rot: Math.PI / 2, rich: { s: { fontSize: 9.5, fontFamily: FONT, fill: INK, verticalAlign: 'bottom', padding: [0, 0, 1, 0] } } }));

  return {
    animation: false,
    backgroundColor: '#ffffff',
    textStyle: { fontFamily: FONT },
    grid, xAxis, yAxis, series,
    graphic: { elements: g }
  };
}

export default function App() {
  const ref = useRef<HTMLDivElement>(null);
  useEffect(() => {
    if (!ref.current) return;
    const chart = echarts.init(ref.current, null, { renderer: 'svg' });
    chart.setOption(buildOption());
    return () => chart.dispose();
  }, []);
  return <div ref={ref} style={{ position: 'absolute', left: 0, top: 0, width: 800, height: 871, background: '#fff' }} />;
}
